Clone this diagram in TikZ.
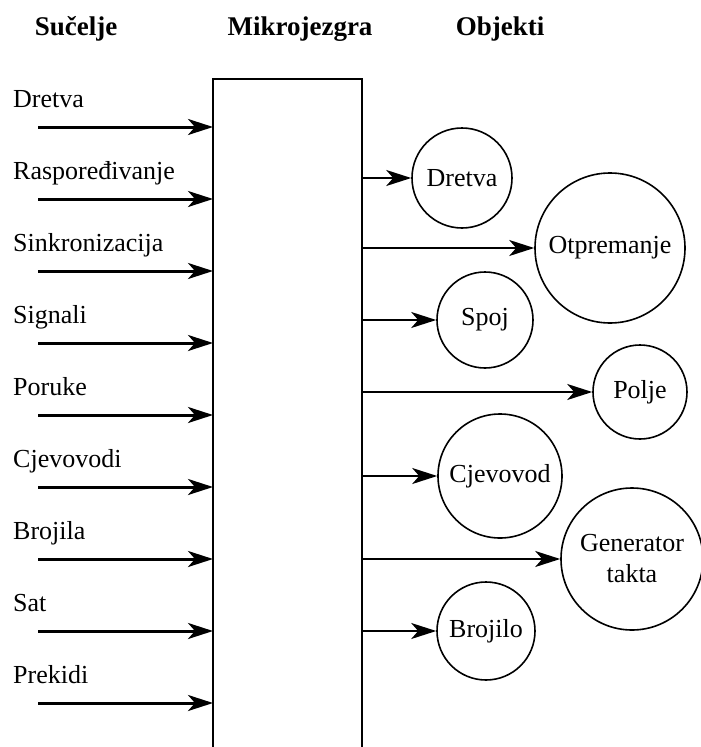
\documentclass[tikz,border=0pt]{standalone}
\usepackage{fontspec}
\setmainfont{Liberation Serif}
\usetikzlibrary{arrows.meta}
\begin{document}
\begin{tikzpicture}[x=1pt,y=-1pt,
  txt/.style={font=\fontsize{26}{31}\selectfont, inner sep=0pt},
  lbl/.style={txt, anchor=base west},
  head/.style={font=\fontsize{27}{32}\selectfont\bfseries, inner sep=0pt, anchor=base},
  obj/.style={circle, draw, line width=1.6pt, inner sep=0pt, txt, align=center},
  arrtip/.style={-{Stealth[length=25pt, width=16pt, inset=7pt]}},
  inarr/.style={arrtip, line width=3pt},
  outarr/.style={arrtip, line width=2.2pt},
  wall/.style={line width=2pt}]
\useasboundingbox (0,0) rectangle (701,747);

% column headings
\node[head] (hIf) at (76,35) {Sučelje};
\node[head] (hK) at (300,35) {Mikrojezgra};
\node[head] (hO) at (500,35) {Objekti};

% microkernel block, open at the bottom
\node[minimum width=149pt, minimum height=668pt, inner sep=0pt, anchor=north west] (k) at (213,79) {};
\draw[wall] (k.south west) -- (k.north west) -- (k.north east) -- (k.south east);

% interface calls entering the kernel
\foreach \name/\txt [count=\i] in {d/Dretva, r/Raspoređivanje, s/Sinkronizacija, g/Signali, p/Poruke, c/Cjevovodi, b/Brojila, t/Sat, x/Prekidi} {
  \pgfmathsetmacro{\yy}{127+72*(\i-1)}
  \node[lbl] (l\name) at (13,\yy-20) {\txt};
  \coordinate (a\name) at (38,\yy);
  \draw[inarr] (a\name) -- (a\name -| k.west);
}

% kernel objects
\node[obj, minimum size=100pt] (oDr) at (462,178) {Dretva};
\node[obj, minimum size=150pt] (oOt) at (610,248) {Otpremanje};
\node[obj, minimum size=96pt] (oSp) at (485,320) {Spoj};
\node[obj, minimum size=94pt] (oPo) at (640,392) {Polje};
\node[obj, minimum size=124pt] (oCj) at (500,476) {Cjevovod};
\node[obj, minimum size=142pt] (oGe) at (632,559) {Generator\\takta};
\node[obj, minimum size=98pt] (oBr) at (486,631) {Brojilo};

\foreach \o in {oDr, oOt, oSp, oPo, oCj, oGe, oBr}
  \draw[outarr] (k.east |- \o.west) -- (\o.west);
\end{tikzpicture}
\end{document}
